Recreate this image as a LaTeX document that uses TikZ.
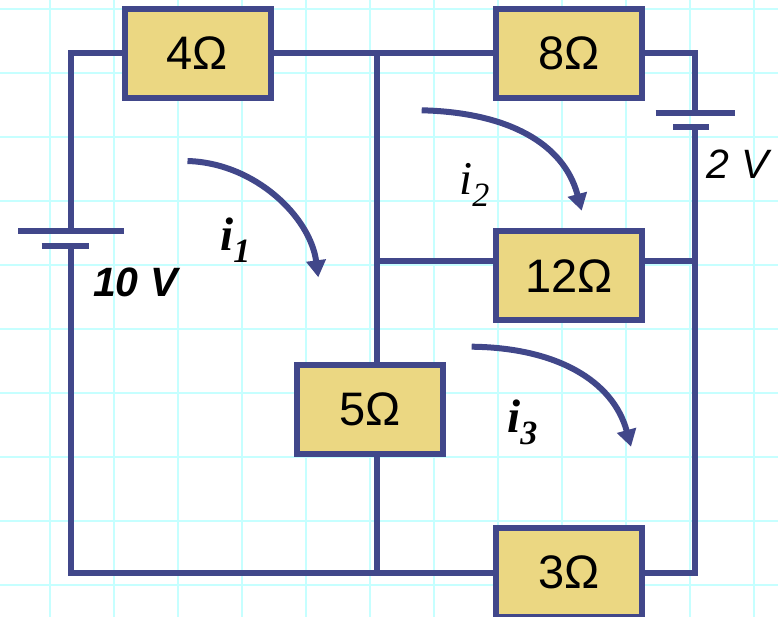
\documentclass[tikz,border=0pt]{standalone}
\usepackage{fontspec}
\setmainfont{Liberation Sans}
\newfontfamily\currfont{Liberation Serif}
\usetikzlibrary{arrows.meta}
\definecolor{wirecol}{HTML}{41478A}
\definecolor{boxcol}{HTML}{EBD782}
\definecolor{gridcol}{HTML}{C6FFFF}
\tikzset{
  wire/.style={draw=wirecol,line width=6pt,line cap=butt,line join=miter},
  resistor/.style={draw=wirecol,fill=boxcol,line width=6pt,minimum width=146pt,
    minimum height=89pt,inner sep=0pt,text depth=0pt,font=\fontsize{47}{50}\selectfont},
  current/.style={draw=wirecol,line width=6pt,-{Triangle[length=17pt,width=19pt]}},
  volt/.style={anchor=base west,inner sep=0pt,font=\fontsize{41}{45}\selectfont\itshape},
  curlab/.style={anchor=base west,inner sep=0pt,font=\fontsize{47}{50}\selectfont\currfont\itshape}
}
\newcommand{\subi}[1]{\raisebox{-11.5pt}{\fontsize{34}{38}\selectfont #1}}
\begin{document}
\begin{tikzpicture}[x=1pt,y=-1pt]
    \useasboundingbox (0,0) rectangle (778,617);

    % squared paper
    \foreach \gx in {50,114,...,754}
      \draw[gridcol,line width=2.2pt] (\gx,0) -- (\gx,617);
    \foreach \gy in {9,73,...,585}
      \draw[gridcol,line width=2.2pt] (0,\gy) -- (778,\gy);

    \node[resistor] (r4)  at (197.5,53.5) {4Ω};
    \node[resistor] (r8)  at (569.3,53.5) {8Ω};
    \node[resistor] (r12) at (569.3,275.8) {12Ω};
    \node[resistor] (r5)  at (370,409.5) {5Ω};
    \node[resistor] (r3)  at (569.3,572.5) {3Ω};

    \path (71,53.5)     node[coordinate] (tl) {}
          (377,53.5)    node[coordinate] (tm) {}
          (695.3,53.5)  node[coordinate] (tr) {}
          (71,572.5)    node[coordinate] (bl) {}
          (377,572.5)   node[coordinate] (bm) {}
          (695.3,572.5) node[coordinate] (br) {}
          (377,261)     node[coordinate] (ml) {}
          (695.3,261)   node[coordinate] (mr) {}
          % left battery
          (18,231.3)    node[coordinate] (aa) {}
          (124,231.3)   node[coordinate] (ab) {}
          (41.7,246)    node[coordinate] (ac) {}
          (89,246)      node[coordinate] (ad) {}
          (71,231.3)    node[coordinate] (ae) {}
          (71,246)      node[coordinate] (af) {}
          % right battery
          (655.7,112.7) node[coordinate] (ba) {}
          (735,112.7)   node[coordinate] (bb) {}
          (673,127.3)   node[coordinate] (bc) {}
          (708.7,127.3) node[coordinate] (bd) {}
          (695.3,112.7) node[coordinate] (be) {}
          (695.3,127.3) node[coordinate] (bf) {};

    \draw[wire] (r4.west) -- (tl) -- (ae);
    \draw[wire] (af) -- (bl) -- (r3.west);
    \draw[wire] (r4.east) -- (r8.west);
    \draw[wire] (r8.east) -- (tr) -- (be);
    \draw[wire] (bf) -- (br) -- (r3.east);
    \draw[wire] (tm) -- (tm |- r5.north);
    \draw[wire] (tm |- r5.south) -- (bm);
    \draw[wire] (ml) -- (ml -| r12.west);
    \draw[wire] (mr -| r12.east) -- (mr);

    \draw[wire] (aa) -- (ab);
    \draw[wire] (ac) -- (ad);
    \draw[wire] (ba) -- (bb);
    \draw[wire] (bc) -- (bd);

    % loop currents
    \path (187.5,161)   node[coordinate] (c1a) {}
          (318.3,277.3) node[coordinate] (c1b) {}
          (421.7,110.3) node[coordinate] (c2a) {}
          (581.7,210.7) node[coordinate] (c2b) {}
          (471.7,346.7) node[coordinate] (c3a) {}
          (631,446.7)   node[coordinate] (c3b) {};

    \draw[current] (c1a) .. controls +(68,2) and +(-8,-60) .. (c1b);
    \draw[current] (c2a) .. controls +(85,2) and +(-18,-68) .. (c2b);
    \draw[current] (c3a) .. controls +(85,1) and +(-18,-66) .. (c3b);

    \node[curlab,font=\fontsize{47}{50}\selectfont\currfont\itshape\bfseries] (i1) at (220,250.7) {i\subi{1}};
    \node[curlab] (i2) at (459,195) {i\subi{2}};
    \node[curlab,font=\fontsize{47}{50}\selectfont\currfont\itshape\bfseries] (i3) at (507,432.7) {i\subi{3}};
    \node[volt,font=\fontsize{41}{45}\selectfont\itshape\bfseries] (v10) at (93,296.7) {10 V};
    \node[volt] (v2) at (706.7,179) {2 V};
\end{tikzpicture}
\end{document}
